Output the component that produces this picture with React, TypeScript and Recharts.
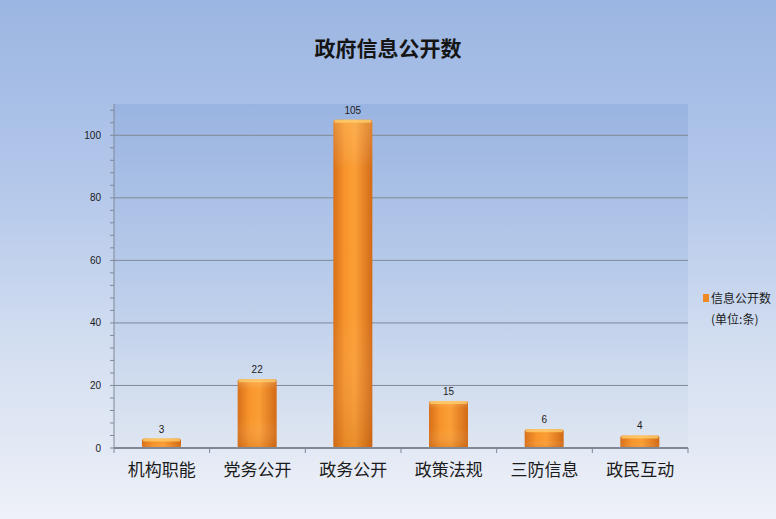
import React from 'react';
import { BarChart, Bar, XAxis, YAxis, CartesianGrid, LabelList } from 'recharts';

const categories = ['机构职能', '党务公开', '政务公开', '政策法规', '三防信息', '政民互动'];
const counts = [3, 22, 105, 15, 6, 4];
const yLabels = [0, 20, 40, 60, 80, 100];

const data = categories.map((name, i) => ({ name, x: i + 0.5, value: counts[i] }));

const yTicks: number[] = [];
for (let v = 0; v <= 108; v += 4) yTicks.push(v);
const xTicks: number[] = [];
for (let v = 0; v <= 12; v++) xTicks.push(v / 2);

const XTick = ({ x, y, payload }: any) => {
  const v = payload.value;
  if (Number.isInteger(v)) {
    return <line x1={x} x2={x} y1={y} y2={y + 5} stroke="#7d8796" />;
  }
  return (
    <text x={x} y={y + 28} textAnchor="middle" fontSize={17} fill="#1b1b1b" fontFamily="'Noto Sans CJK SC'">
      {categories[Math.floor(v)]}
    </text>
  );
};

const BarShape = (props: any) => {
  const { x, y, width, height } = props;
  if (!height || height <= 0) return null;
  return (
    <g>
      <rect x={x} y={y} width={width} height={height} rx={2} fill="url(#barH)" />
      <rect x={x} y={y} width={width} height={height} rx={2} fill="url(#barV)" />
      <rect x={x + 1} y={y} width={width - 2} height={Math.min(3, height)} rx={1} fill="#ffd070" opacity={0.75} />
    </g>
  );
};

export default function App() {
  return (
    <div
      style={{
        position: 'absolute',
        left: 0,
        top: 0,
        width: 776,
        height: 519,
        background: 'linear-gradient(to bottom, #9bb6e2 0%, #b3c7ea 35%, #d6e0f1 70%, #eef1f8 100%)',
      }}
    >
      <svg width={0} height={0} style={{ position: 'absolute' }}>
        <defs>
          <linearGradient id="plotBg" x1="0" y1="0" x2="0" y2="1">
            <stop offset="0%" stopColor="#9ab4e1" />
            <stop offset="50%" stopColor="#b8cbea" />
            <stop offset="100%" stopColor="#dfe6f1" />
          </linearGradient>
          <linearGradient id="barH" x1="0" y1="0" x2="1" y2="0">
            <stop offset="0%" stopColor="#d8701a" />
            <stop offset="30%" stopColor="#f7952c" />
            <stop offset="55%" stopColor="#fb9e36" />
            <stop offset="100%" stopColor="#d26a16" />
          </linearGradient>
          <linearGradient id="barV" x1="0" y1="0" x2="0" y2="1">
            <stop offset="0%" stopColor="#ffe08a" stopOpacity={0.25} />
            <stop offset="15%" stopColor="#ffffff" stopOpacity={0} />
            <stop offset="60%" stopColor="#ffffff" stopOpacity={0} />
            <stop offset="100%" stopColor="#a34c00" stopOpacity={0.2} />
          </linearGradient>
        </defs>
      </svg>
      <div
        style={{
          position: 'absolute',
          top: 32,
          width: 776,
          textAlign: 'center',
          fontFamily: "'Noto Sans CJK SC'",
          fontWeight: 'bold',
          fontSize: 21,
          color: '#151515',
        }}
      >
        政府信息公开数
      </div>
      {/* legend sits outside the svg so it doesn't eat plot width */}
      <div
        style={{
          position: 'absolute',
          left: 703,
          top: 287,
          fontFamily: "'Noto Sans CJK SC'",
          fontSize: 12,
          color: '#1b1b1b',
          lineHeight: '21px',
        }}
      >
        <div style={{ display: 'flex', alignItems: 'center' }}>
          <span style={{ display: 'inline-block', width: 6, height: 8, background: '#f08a24', marginRight: 2 }} />
          信息公开数
        </div>
        <div style={{ paddingLeft: 8 }}>(单位:条)</div>
      </div>
      <BarChart width={776} height={519} data={data} margin={{ top: 104, right: 88, left: 74, bottom: 31 }}>
        <CartesianGrid
          vertical={false}
          horizontalValues={[20, 40, 60, 80, 100]}
          fill="url(#plotBg)"
          fillOpacity={1}
          stroke="#7f8896"
          strokeWidth={1}
        />
        <YAxis
          type="number"
          domain={[0, 110]}
          ticks={yTicks}
          interval={0}
          width={40}
          tickSize={4}
          tickMargin={9}
          tickFormatter={(v: number) => (yLabels.includes(v) ? String(v) : '')}
          tick={{ fontSize: 10, fill: '#1b1b1b', fontFamily: "'Liberation Sans'" }}
          stroke="#7f8896"
        />
        <XAxis
          type="number"
          dataKey="x"
          domain={[0, 6]}
          ticks={xTicks}
          interval={0}
          allowDecimals
          height={40}
          tickLine={false}
          tickSize={0}
          tickMargin={0}
          tick={<XTick />}
          stroke="#7f8896"
          strokeWidth={2}
        />
        <Bar dataKey="value" barSize={39} shape={<BarShape />} isAnimationActive={false}>
          <LabelList dataKey="value" position="top" offset={6} fontSize={10} fill="#1b1b1b" fontFamily="'Liberation Sans'" />
        </Bar>
      </BarChart>
    </div>
  );
}
